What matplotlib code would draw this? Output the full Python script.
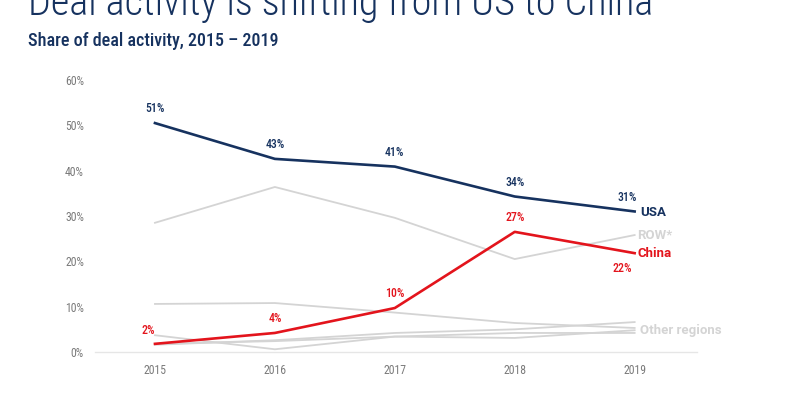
import matplotlib
matplotlib.use("Agg")
import matplotlib.pyplot as plt
from matplotlib import font_manager

years = [2015, 2016, 2017, 2018, 2019]
usa = [50.5, 42.6, 40.9, 34.3, 31.0]
china = [1.8, 4.2, 9.7, 26.5, 21.8]
row = [28.5, 36.4, 29.6, 20.5, 25.8]
other_a = [10.6, 10.8, 8.7, 6.4, 5.3]
other_b = [3.7, 0.6, 3.4, 3.1, 4.8]
other_c = [1.6, 2.6, 4.2, 5.0, 6.6]
other_d = [1.8, 2.4, 3.4, 4.2, 4.2]
usa_labels = ["51%", "43%", "41%", "34%", "31%"]
china_labels = ["2%", "4%", "10%", "27%", "22%"]
yticks = [0, 10, 20, 30, 40, 50, 60]
ytick_labels = ["0%", "10%", "20%", "30%", "40%", "50%", "60%"]

names = {f.name for f in font_manager.fontManager.ttflist}
cond = "Roboto Condensed" if "Roboto Condensed" in names else (
    "Liberation Sans Narrow" if "Liberation Sans Narrow" in names else "Roboto")

NAVY = "#16325f"
RED = "#e3141c"
GRAY = "#d4d4d4"
TICK = "#7a7a7a"

fig = plt.figure(figsize=(8, 3.97), dpi=100)
ax = fig.add_axes([95/800, 1-352/397, 602/800, 272/397])

for s in [other_a, other_b, other_c, other_d, row]:
    ax.plot(years, s, color=GRAY, lw=1.3)
ax.plot(years, china, color=RED, lw=1.9)
ax.plot(years, usa, color=NAVY, lw=1.9)

ax.set_xlim(2014.5, 2019.52)
ax.set_ylim(0, 60)
ax.set_yticks(yticks)
ax.set_yticklabels(ytick_labels)
ax.set_xticks(years)
ax.set_xticklabels([str(y) for y in years])
for sp in ["top", "right", "left"]:
    ax.spines[sp].set_visible(False)
ax.spines["bottom"].set_color("#e6e6e6")
ax.spines["bottom"].set_linewidth(1.0)
ax.tick_params(length=0, colors=TICK, labelsize=8.5)
ax.tick_params(axis="y", pad=8)
ax.tick_params(axis="x", pad=8.5)
for t in ax.get_xticklabels() + ax.get_yticklabels():
    t.set_family([cond, "Roboto"])

# USA value labels
for i, (x, v, l) in enumerate(zip(years, usa, usa_labels)):
    dx = -0.06 if i == 4 else 0
    ax.annotate(l, (x + dx, v), xytext=(0, 5.5), textcoords="offset points",
                ha="center", va="bottom", color=NAVY, fontsize=8.5, fontweight="medium",
                family=[cond, "Roboto"])
# China value labels
offs = [(-5, 5, "bottom"), (0, 6, "bottom"), (0, 6, "bottom"), (0, 6, "bottom"), (-9, -6, "top")]
for (x, v, l), (dx, dy, va) in zip(zip(years, china, china_labels), offs):
    ax.annotate(l, (x, v), xytext=(dx, dy), textcoords="offset points",
                ha="center", va=va, color=RED, fontsize=8.5, fontweight="medium",
                family=[cond, "Roboto"])

# End labels
ax.annotate("USA", (2019, usa[-1]), xytext=(4, -1), textcoords="offset points",
            ha="left", va="center", color=NAVY, fontsize=9.5, fontweight="bold", family=["Roboto"])
ax.annotate("ROW*", (2019, row[-1]), xytext=(2, 0), textcoords="offset points",
            ha="left", va="center", color=GRAY, fontsize=9.5, fontweight="bold", family=["Roboto"])
ax.annotate("China", (2019, china[-1]), xytext=(2, 0), textcoords="offset points",
            ha="left", va="center", color=RED, fontsize=9.5, fontweight="bold", family=["Roboto"])
ax.annotate("Other regions", (2019, 5.0), xytext=(4, -1), textcoords="offset points",
            ha="left", va="center", color=GRAY, fontsize=9.5, fontweight="bold", family=["Roboto"])

fig.text(28/800, 1-15/397, "Deal activity is shifting from US to China", color=NAVY,
         fontsize=29, fontweight="light", family=[cond, "Roboto"], ha="left", va="baseline")
fig.text(28/800, 1-46/397, "Share of deal activity, 2015 \u2013 2019", color=NAVY,
         fontsize=13, fontweight="medium", family=[cond, "Roboto"], ha="left", va="baseline")

fig.savefig("out.png", dpi=100)
